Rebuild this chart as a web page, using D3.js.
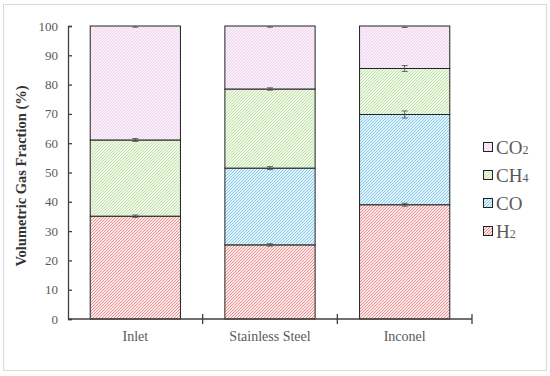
<!DOCTYPE html>
<html>
<head>
<meta charset="utf-8">
<script src="https://cdn.jsdelivr.net/npm/d3@7"></script>
<style>
  body { margin: 0; background: #fff; }
  svg text { font-family: "Liberation Serif", serif; }
</style>
</head>
<body>
<svg width="550" height="376"></svg>
<script>
const svg = d3.select("svg"),
	width = +svg.attr("width"),
	height = +svg.attr("height");

// data
const categories = ["Inlet", "Stainless Steel", "Inconel"]
const gases = ["H2", "CO", "CH4", "CO2"]
const h2 = [35.1, 25.3, 39.0]
const co = [0, 26.2, 30.8]
const ch4 = [26.0, 27.0, 15.7]
const co2 = [38.9, 21.5, 14.5]
const h2Err = [0.4, 0.4, 0.5]
const coErr = [0, 0.5, 1.2]
const ch4Err = [0.5, 0.4, 1.0]
const co2Err = [0.4, 0.4, 0.5]
const yTicks = [0, 10, 20, 30, 40, 50, 60, 70, 80, 90, 100]

const series = { H2: h2, CO: co, CH4: ch4, CO2: co2 }
const errors = { H2: h2Err, CO: coErr, CH4: ch4Err, CO2: co2Err }
const labels = { H2: ["H", "2"], CO: ["CO", ""], CH4: ["CH", "4"], CO2: ["CO", "2"] }
const bg = { H2: "#fce8e8", CO: "#e2f3fb", CH4: "#f0f9e8", CO2: "#f9f0f9" }
const hatch = { H2: "#e47b7b", CO: "#6fc2e6", CH4: "#b3dd9b", CO2: "#eac8ea" }

// outer frame
svg.append("rect")
	.attr("x", 3.5).attr("y", 4.5)
	.attr("width", 543).attr("height", 366)
	.attr("fill", "none")
	.attr("stroke", "#d9d9d9")

// hatch patterns
const defs = svg.append("defs")
gases.forEach(g => {
	const p = defs.append("pattern")
		.attr("id", "hatch-" + g)
		.attr("patternUnits", "userSpaceOnUse")
		.attr("width", 3).attr("height", 3)
	p.append("rect").attr("width", 3).attr("height", 3).attr("fill", bg[g])
	p.append("path")
		.attr("d", "M-1,1 l2,-2 M0,3 l3,-3 M2,4 l2,-2")
		.attr("stroke", hatch[g])
		.attr("stroke-width", 0.8)
})

const x = d3.scaleBand()
	.domain(categories)
	.range([68, 472])
	.paddingInner(0.33)
	.paddingOuter(0.165)

const y = d3.scaleLinear()
	.domain([0, 100])
	.range([319, 26])

// stacked data
const table = categories.map((c, i) => {
	const row = { cat: c }
	gases.forEach(g => row[g] = series[g][i])
	return row
})
const stacked = d3.stack().keys(gases)(table)

const bars = svg.append("g")
stacked.forEach(layer => {
	bars.selectAll(null)
		.data(layer.filter(d => d[1] - d[0] > 0))
		.join("rect")
		.attr("x", d => x(d.data.cat))
		.attr("y", d => y(d[1]))
		.attr("width", x.bandwidth())
		.attr("height", d => y(d[0]) - y(d[1]))
		.attr("fill", "url(#hatch-" + layer.key + ")")
		.attr("stroke", "#222")
		.attr("stroke-width", 1)
})

// error bars
const errG = svg.append("g").attr("stroke", "#444").attr("stroke-width", 0.8)
stacked.forEach(layer => {
	layer.forEach((d, i) => {
		const e = errors[layer.key][i]
		if (d[1] - d[0] <= 0) return
		const cx = x(d.data.cat) + x.bandwidth() / 2
		const top = Math.min(d[1] + e, 100)
		const bot = d[1] - e
		errG.append("line").attr("x1", cx).attr("x2", cx).attr("y1", y(top)).attr("y2", y(bot))
		errG.append("line").attr("x1", cx - 3).attr("x2", cx + 3).attr("y1", y(bot)).attr("y2", y(bot))
		if (d[1] + e <= 100)
			errG.append("line").attr("x1", cx - 3).attr("x2", cx + 3).attr("y1", y(top)).attr("y2", y(top))
	})
})

// y axis
const yAxis = svg.append("g")
	.attr("transform", "translate(68,0)")
	.call(d3.axisRight(y).tickValues(yTicks).tickSize(4).tickFormat(""))
yAxis.select(".domain").attr("stroke", "#404040").attr("stroke-width", 1.3)
yAxis.selectAll(".tick line").attr("stroke", "#404040").attr("stroke-width", 1.3)

svg.append("g").selectAll("text")
	.data(yTicks)
	.join("text")
	.attr("x", 58)
	.attr("y", d => y(d))
	.attr("dy", "0.35em")
	.attr("text-anchor", "end")
	.attr("font-size", 13)
	.attr("fill", "#595959")
	.text(d => d)

// x axis
svg.append("line")
	.attr("x1", 68).attr("x2", 472)
	.attr("y1", y(0)).attr("y2", y(0))
	.attr("stroke", "#404040").attr("stroke-width", 1.3)
svg.append("g").selectAll("line")
	.data(categories)
	.join("line")
	.attr("x1", d => x(d) + x.bandwidth() + x.step() * 0.165)
	.attr("x2", d => x(d) + x.bandwidth() + x.step() * 0.165)
	.attr("y1", y(0) - 5).attr("y2", y(0) + 5)
	.attr("stroke", "#404040").attr("stroke-width", 1.3)

svg.append("g").selectAll("text")
	.data(categories)
	.join("text")
	.attr("x", d => x(d) + x.bandwidth() / 2)
	.attr("y", 341)
	.attr("text-anchor", "middle")
	.attr("font-size", 14)
	.attr("fill", "#595959")
	.text(d => d)

// y title
svg.append("text")
	.attr("transform", "translate(26,176) rotate(-90)")
	.attr("text-anchor", "middle")
	.attr("font-size", 14.5)
	.attr("font-weight", "bold")
	.attr("fill", "#333")
	.text("Volumetric Gas Fraction (%)")

// legend
const legendKeys = gases.slice().reverse()
const legend = svg.append("g")
legend.selectAll("rect")
	.data(legendKeys)
	.join("rect")
	.attr("x", 483.5)
	.attr("y", (d, i) => 142.5 + i * 28)
	.attr("width", 9).attr("height", 9)
	.attr("fill", d => "url(#hatch-" + d + ")")
	.attr("stroke", "#222")
	.attr("stroke-width", 1)

const lt = legend.selectAll("text")
	.data(legendKeys)
	.join("text")
	.attr("x", 496)
	.attr("y", (d, i) => 153.5 + i * 28)
	.attr("font-size", 19)
	.attr("fill", "#595959")
lt.append("tspan").text(d => labels[d][0])
lt.append("tspan").attr("font-size", 12).text(d => labels[d][1])
</script>
</body>
</html>
